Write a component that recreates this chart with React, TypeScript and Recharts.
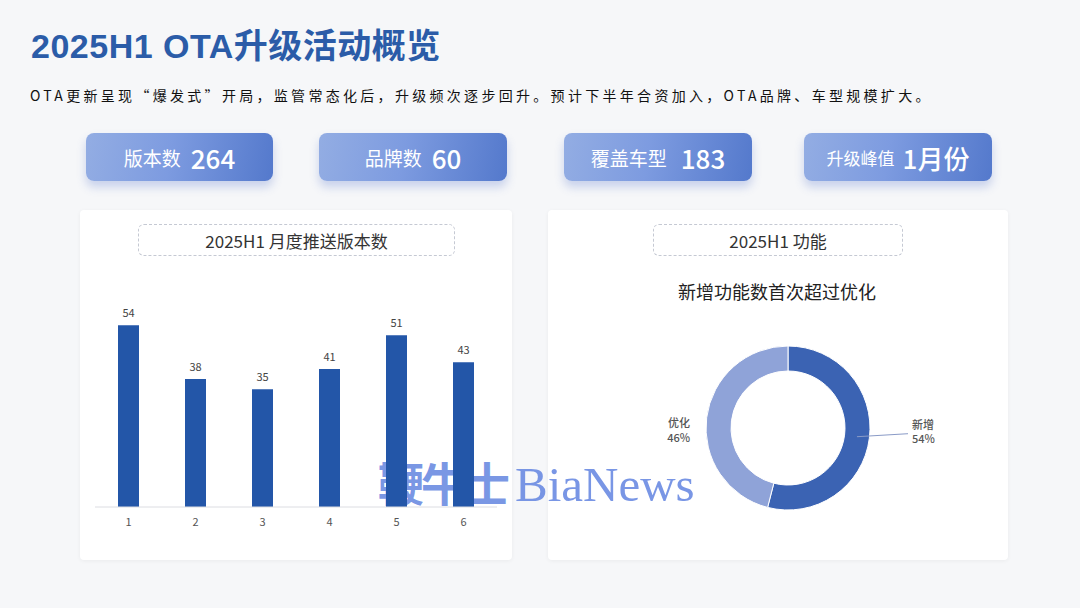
import React from "react";
import { BarChart, Bar, XAxis, YAxis, LabelList, PieChart, Pie, Cell } from "recharts";

const months = ["1", "2", "3", "4", "5", "6"];
const versionCounts = [54, 38, 35, 41, 51, 43];
const funcNames = ["新增", "优化"];
const funcShares = [54, 46];

const kpiLabels = ["版本数", "品牌数", "覆盖车型", "升级峰值"];
const kpiValues = ["264", "60", "183", "1月份"];

const title = "2025H1 OTA升级活动概览";
const subtitle = "OTA更新呈现“爆发式”开局，监管常态化后，升级频次逐步回升。预计下半年合资加入，OTA品牌、车型规模扩大。";
const barTitle = "2025H1 月度推送版本数";
const pieTitle = "2025H1 功能";
const pieSubtitle = "新增功能数首次超过优化";

const barData = months.map((m, i) => ({ month: m, value: versionCounts[i] }));
const pieData = funcNames.map((n, i) => ({ name: n, value: funcShares[i] }));
const pieColors = ["#3b63b3", "#8fa3d8"];

const FONT = '"Noto Sans CJK SC", "Noto Sans", sans-serif';
const TITLE_FONT = '"Liberation Sans", "Noto Sans CJK SC", sans-serif';

const kpiBoxes = [
  { left: 86, width: 187, labelSize: 19, gap: 10 },
  { left: 319, width: 188, labelSize: 19, gap: 10 },
  { left: 564, width: 188, labelSize: 19, gap: 14 },
  { left: 804, width: 188, labelSize: 17, gap: 8 },
];

const RAD = Math.PI / 180;

const renderPieLabel = (props: any) => {
  const { cx, cy, midAngle, innerRadius, outerRadius, name, percent } = props;
  const cos = Math.cos(-midAngle * RAD);
  const sin = Math.sin(-midAngle * RAD);
  const rm = (innerRadius + outerRadius) / 2;
  const right = cos >= 0;
  const pct = `${Math.round(percent * 100)}%`;
  if (right) {
    const sx = cx + rm * cos;
    const sy = cy + rm * sin;
    const ex = cx + outerRadius + 38;
    const ey = sy - 3;
    return (
      <g>
        <polyline points={`${sx},${sy} ${ex},${ey}`} fill="none" stroke="#8a9bc7" strokeWidth={1} />
        <text x={ex + 4} y={cy - 2} fill="#555" fontSize={11} fontWeight={500} dominantBaseline="middle" fontFamily={FONT}>
          {name}
        </text>
        <text x={ex + 4} y={cy + 12} fill="#555" fontSize={11} fontWeight={500} dominantBaseline="middle" fontFamily={FONT}>
          {pct}
        </text>
      </g>
    );
  }
  const tx = cx - outerRadius - 16;
  return (
    <g>
      <text x={tx} y={cy - 4} fill="#555" fontSize={11} fontWeight={500} textAnchor="end" dominantBaseline="middle" fontFamily={FONT}>
        {name}
      </text>
      <text x={tx} y={cy + 11} fill="#555" fontSize={11} fontWeight={500} textAnchor="end" dominantBaseline="middle" fontFamily={FONT}>
        {pct}
      </text>
    </g>
  );
};

export default function App() {
  return (
    <div
      style={{
        position: "absolute",
        left: 0,
        top: 0,
        width: 1080,
        height: 608,
        background: "#f6f7f9",
        fontFamily: FONT,
        overflow: "hidden",
      }}
    >
      <div
        style={{
          position: "absolute",
          left: 31,
          top: 25,
          fontFamily: TITLE_FONT,
          fontSize: 34,
          fontWeight: 700,
          color: "#2b5ca8",
          letterSpacing: 0.5,
          lineHeight: "42px",
          whiteSpace: "nowrap",
        }}
      >
        {title}
      </div>
      <div
        style={{
          position: "absolute",
          left: 30,
          top: 85,
          fontFamily: FONT,
          fontSize: 14,
          fontWeight: 400,
          color: "#111",
          letterSpacing: 3.3,
          lineHeight: "20px",
          whiteSpace: "nowrap",
        }}
      >
        {subtitle}
      </div>

      {kpiBoxes.map((b, i) => (
        <div
          key={i}
          style={{
            position: "absolute",
            left: b.left,
            top: 133,
            width: b.width,
            height: 48,
            borderRadius: 8,
            background: "linear-gradient(100deg, #93ade3 0%, #7d9be0 45%, #5479cc 100%)",
            boxShadow: "0 6px 10px rgba(80,110,200,0.28)",
            display: "flex",
            alignItems: "center",
            justifyContent: "center",
            color: "#fff",
            whiteSpace: "nowrap",
          }}
        >
          <span style={{ fontSize: b.labelSize, fontWeight: 400 }}>{kpiLabels[i]}</span>
          <span style={{ fontSize: 26, fontWeight: 500, marginLeft: b.gap }}>{kpiValues[i]}</span>
        </div>
      ))}

      {/* left card */}
      <div
        style={{
          position: "absolute",
          left: 80,
          top: 210,
          width: 432,
          height: 350,
          background: "#fff",
          borderRadius: 4,
          boxShadow: "0 1px 4px rgba(0,0,0,0.05)",
        }}
      />
      {/* right card */}
      <div
        style={{
          position: "absolute",
          left: 548,
          top: 210,
          width: 460,
          height: 350,
          background: "#fff",
          borderRadius: 4,
          boxShadow: "0 1px 4px rgba(0,0,0,0.05)",
        }}
      />

      {/* watermark (behind the marks) */}
      <div
        style={{
          position: "absolute",
          left: 378,
          top: 458,
          height: 46,
          fontSize: 46,
          color: "rgba(98,132,224,0.85)",
          whiteSpace: "nowrap",
          pointerEvents: "none",
          lineHeight: "46px",
        }}
      >
        <span style={{ fontFamily: '"Noto Sans CJK SC", serif', fontWeight: 700, letterSpacing: -3 }}>鞭牛士</span>
        <span style={{ fontFamily: '"Liberation Serif", serif', fontWeight: 400, marginLeft: 8, fontSize: 49 }}>BiaNews</span>
      </div>

      <div
        style={{
          position: "absolute",
          left: 138,
          top: 224,
          width: 317,
          height: 32,
          boxSizing: "border-box",
          border: "1px dashed #c5c9d3",
          borderRadius: 6,
          background: "#fff",
          display: "flex",
          alignItems: "center",
          justifyContent: "center",
          fontSize: 17,
          color: "#333",
          whiteSpace: "nowrap",
        }}
      >
        {barTitle}
      </div>
      <div style={{ position: "absolute", left: 80, top: 280 }}>
        <BarChart width={432} height={257} data={barData} margin={{ top: 25, right: 15, left: 15, bottom: 0 }}>
          <XAxis
            dataKey="month"
            height={30}
            axisLine={{ stroke: "#dcdde2" }}
            tickLine={false}
            tick={{ fill: "#555", fontSize: 11 }}
            tickMargin={5}
          />
          <YAxis hide domain={[0, 60]} />
          <Bar dataKey="value" fill="#2356a8" barSize={21} isAnimationActive={false}>
            <LabelList dataKey="value" position="top" offset={8} fill="#444" fontSize={11} />
          </Bar>
        </BarChart>
      </div>

      <div
        style={{
          position: "absolute",
          left: 653,
          top: 224,
          width: 250,
          height: 32,
          boxSizing: "border-box",
          border: "1px dashed #c5c9d3",
          borderRadius: 6,
          background: "#fff",
          display: "flex",
          alignItems: "center",
          justifyContent: "center",
          fontSize: 17,
          color: "#333",
          whiteSpace: "nowrap",
        }}
      >
        {pieTitle}
      </div>
      <div
        style={{
          position: "absolute",
          left: 678,
          top: 278,
          fontSize: 18,
          fontWeight: 400,
          color: "#222",
          lineHeight: "26px",
          whiteSpace: "nowrap",
        }}
      >
        {pieSubtitle}
      </div>
      <div style={{ position: "absolute", left: 548, top: 300 }}>
        <PieChart width={460} height={260}>
          <Pie
            data={pieData}
            dataKey="value"
            nameKey="name"
            cx={235}
            cy={123}
            innerRadius={57}
            outerRadius={82}
            startAngle={90}
            endAngle={-270}
            stroke="#fff"
            strokeWidth={1}
            label={renderPieLabel}
            labelLine={false}
            isAnimationActive={false}
          >
            {pieData.map((d, i) => (
              <Cell key={d.name} fill={pieColors[i]} />
            ))}
          </Pie>
        </PieChart>
      </div>
    </div>
  );
}
